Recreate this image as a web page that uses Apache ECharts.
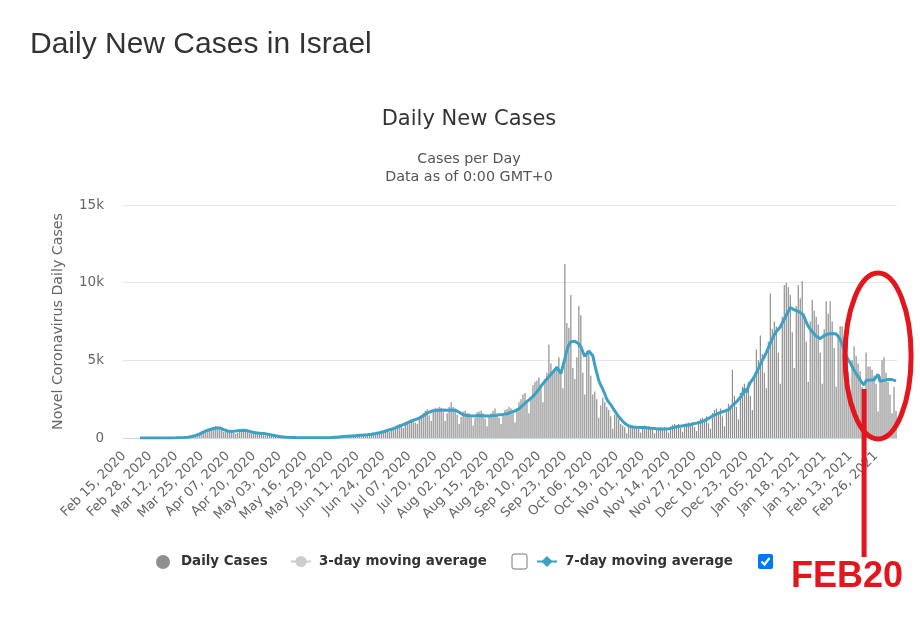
<!DOCTYPE html>
<html><head><meta charset="utf-8">
<script src="https://cdn.jsdelivr.net/npm/echarts@6/dist/echarts.min.js"></script>
<style>html,body{margin:0;padding:0;background:#fff;}#chart{width:920px;height:626px;}</style>
</head><body><div id="chart"></div>
<script>
// ---- data ----
const monthNames = ['Jan','Feb','Mar','Apr','May','Jun','Jul','Aug','Sep','Oct','Nov','Dec'];
const firstDay = [2020, 1, 15]; // Feb 15, 2020
const dayCount = 388;            // through Mar 08, 2021
const categories = [];
for (let i = 0; i < dayCount; i++) {
  const d = new Date(Date.UTC(firstDay[0], firstDay[1], firstDay[2] + i));
  categories.push(monthNames[d.getUTCMonth()] + ' ' + String(d.getUTCDate()).padStart(2, '0') + ', ' + d.getUTCFullYear());
}

const dailyCases = [
  0,0,0,0,0,0,1,
  0,0,1,0,0,2,1,
  0,3,2,0,3,4,2,
  4,9,3,17,12,14,18,
  17,43,50,39,97,102,144,
  110,200,230,300,420,450,520,
  430,590,560,640,760,700,600,
  520,410,430,520,470,450,330,
  250,330,560,490,550,540,430,
  300,290,400,330,280,300,240,
  170,180,270,240,140,110,100,
  60,90,110,60,50,40,30,
  20,25,30,20,18,15,14,
  10,16,18,15,14,12,16,
  8,14,20,22,25,40,45,
  30,60,75,95,110,115,90,
  70,120,160,150,170,180,140,
  120,190,240,250,270,280,220,
  200,330,380,400,450,520,440,
  400,600,690,760,850,900,720,
  650,1000,1080,1140,1200,1250,1000,
  900,1350,1480,1600,1750,1850,1450,
  1100,1750,1950,1900,2000,1950,1650,
  1100,1600,2000,2300,2000,1900,1500,
  900,1350,1700,1750,1600,1600,1300,
  800,1300,1650,1700,1750,1600,1250,
  750,1400,1600,1750,1900,1500,1300,
  900,1500,1800,1850,2000,1900,1600,
  1000,1900,2300,2500,2800,2900,2300,
  1600,2600,3400,3600,3700,3900,3300,
  2300,3800,4200,6000,4800,4300,4500,
  4600,5200,4400,3200,11200,7400,7100,
  9200,4500,3800,5200,8500,7900,4200,
  2800,5600,5400,4000,2800,3000,2500,
  1300,2100,2600,2300,2000,1800,1400,
  600,1500,1400,1200,900,800,700,
  300,750,850,800,700,750,600,
  350,700,800,750,750,700,550,
  300,650,700,700,650,700,500,
  350,750,850,900,800,900,650,
  400,900,950,1000,950,1000,700,
  450,1050,1250,1300,1200,1400,950,
  600,1600,1800,1900,1700,1900,1400,
  750,1900,2200,2100,4400,2700,2000,
  1200,2900,3300,3500,3200,3600,2700,
  1800,4000,5700,5000,6600,5400,4200,
  3200,6200,9300,7000,7500,7200,5500,
  3500,7800,9850,10000,9700,9200,6800,
  4500,8500,9850,9000,10100,8000,6200,
  3600,7500,8900,8200,7800,7300,5500,
  3500,7000,8800,8000,8800,7500,5800,
  3300,6500,7200,7200,6500,5500,4300,
  2500,5000,5900,5300,4800,4300,3300,
  1900,5500,4600,4600,4400,4000,3500,
  1700,4000,5000,5200,4200,3600,2800,
  1600,3300,1760
];

const movingAvg7 = [
  null,null,null,null,null,null,null,
  null,0,0,0,0,1,1,
  1,1,1,2,2,2,3,
  3,4,5,6,8,10,13,
  17,22,30,38,50,70,95,
  130,170,210,260,320,390,450,
  500,540,580,620,640,660,650,
  600,540,480,450,430,420,430,
  450,470,490,500,500,480,460,
  420,390,360,340,320,310,300,
  290,270,250,220,190,160,140,
  120,100,85,70,55,45,38,
  32,28,25,22,20,18,17,
  16,15,15,14,14,14,15,
  15,16,17,18,20,24,30,
  40,50,60,70,80,90,100,
  110,120,130,140,150,160,170,
  180,190,200,215,230,245,260,
  290,315,340,370,400,440,480,
  520,560,600,650,700,750,800,
  860,920,980,1030,1080,1130,1180,
  1220,1280,1350,1430,1520,1610,1690,
  1720,1750,1770,1780,1790,1800,1810,
  1800,1790,1780,1800,1820,1790,1740,
  1660,1570,1500,1470,1450,1430,1420,
  1420,1430,1440,1450,1450,1440,1430,
  1420,1420,1430,1440,1450,1470,1490,
  1510,1520,1530,1560,1600,1650,1700,
  1750,1800,1880,1990,2110,2240,2360,
  2460,2560,2680,2820,2980,3150,3330,
  3500,3650,3800,3950,4100,4250,4400,
  4550,4620,4150,4250,5100,5650,6000,
  6200,6180,6230,6200,6050,5880,5550,
  5250,5150,5600,5700,5300,4700,4200,
  3700,3400,3150,2850,2500,2300,2150,
  1950,1750,1550,1380,1220,1080,950,
  850,780,740,710,700,690,690,
  680,680,670,660,650,640,620,
  610,600,590,585,580,580,585,
  590,610,650,690,720,740,760,
  780,800,815,830,860,900,930,
  960,990,1030,1070,1120,1180,1260,
  1340,1420,1480,1540,1590,1640,1690,
  1730,1770,1810,1850,2100,2200,2320,
  2480,2620,2800,3150,2950,3300,3580,
  3750,3950,4200,4450,4750,5000,5250,
  5500,5800,6100,6400,6650,6850,7000,
  7150,7400,7650,7900,8150,8400,8350,
  8250,8200,8150,8050,8000,7800,7450,
  7200,7000,6850,6700,6550,6450,6400,
  6500,6600,6650,6700,6720,6730,6740,
  6700,6550,6350,6050,5650,5300,5050,
  4850,4600,4350,4150,3950,3750,3550,
  3420,3700,3740,3730,3720,3740,3800,
  4100,3650,3700,3710,3730,3760,3790,
  3760,3720,3680
];

const movingAvg3 = []; // hidden series (shown in legend only)
const yTickValues = [0, 5000, 10000, 15000];
const yTickLabels = ['0', '5k', '10k', '15k'];
const markedDay = 'Feb 20, 2021';
const markText = 'FEB20';

// ---- chart ----
const chart = echarts.init(document.getElementById('chart'));
const RED = '#e3161d';
const FONT = 'DejaVu Sans';
const legendText = {fontFamily: FONT, fontWeight: 'bold', fontSize: 13.4, color: '#333', padding: [0, 0, 0, 3]};

chart.setOption({
  animation: false,
  title: [
    {text: 'Daily New Cases in Israel', left: 25, top: 25,
     textStyle: {fontFamily: 'Liberation Sans', fontSize: 30, fontWeight: 'normal', color: '#333'}},
    {text: 'Daily New Cases', left: 464, top: 104, textAlign: 'center',
     textStyle: {fontFamily: FONT, fontSize: 21, fontWeight: 'normal', color: '#333'}},
    {text: 'Cases per Day\nData as of 0:00 GMT+0', left: 464, top: 145, textAlign: 'center',
     textStyle: {fontFamily: FONT, fontSize: 14.3, lineHeight: 18, fontWeight: 'normal', color: '#555'}}
  ],
  grid: {left: 123, right: 23, top: 205, bottom: 188},
  xAxis: {
    type: 'category', data: categories, boundaryGap: true,
    axisLine: {lineStyle: {color: '#ccd6eb'}},
    axisTick: {show: false},
    axisLabel: {interval: 12, rotate: 45, color: '#666', fontSize: 13.1, fontFamily: FONT, margin: 16}
  },
  yAxis: {
    type: 'value', min: yTickValues[0], max: yTickValues[yTickValues.length - 1],
    interval: yTickValues[1] - yTickValues[0],
    name: 'Novel Coronavirus Daily Cases', nameLocation: 'middle', nameGap: 58,
    nameTextStyle: {fontFamily: FONT, fontSize: 14.2, color: '#666'},
    axisLine: {show: false}, axisTick: {show: false},
    axisLabel: {color: '#666', fontSize: 13.5, fontFamily: FONT, margin: 19,
      formatter: v => yTickLabels[yTickValues.indexOf(v)]},
    splitLine: {lineStyle: {color: '#e6e6e6'}}
  },
  legend: [
    {data: ['Daily Cases'], left: 156, top: 555, padding: 0, itemWidth: 20, itemHeight: 14, icon: 'circle', textStyle: legendText,
     selected: {'3-day moving average': false}},
    {data: ['3-day moving average'], left: 290, top: 555, padding: 0, itemWidth: 20, itemHeight: 14, textStyle: legendText,
     inactiveColor: '#ccc', inactiveBorderColor: '#ccc',
     lineStyle: {color: '#ccc', width: 2, inactiveColor: '#ccc', inactiveWidth: 2}},
    {data: ['7-day moving average'], left: 536, top: 555, padding: 0, itemWidth: 20, itemHeight: 14, textStyle: legendText}
  ],
  series: [
    {name: 'Daily Cases', type: 'bar', data: dailyCases, barWidth: '60%', itemStyle: {color: '#8f8f8f'}},
    {name: '3-day moving average', type: 'line', data: movingAvg3, symbol: 'circle', symbolSize: 8,
     itemStyle: {color: '#ccc'}, lineStyle: {color: '#ccc', width: 2}},
    {name: '7-day moving average', type: 'line', data: movingAvg7, showSymbol: false, symbol: 'diamond', symbolSize: 9,
     lineStyle: {width: 3, color: '#3ca1c5'}, itemStyle: {color: '#3ca1c5'}, z: 5}
  ]
});

const mx = chart.convertToPixel({xAxisIndex: 0}, markedDay);
chart.setOption({
  graphic: [
    {type: 'rect', shape: {x: 512, y: 554, width: 15, height: 15, r: 2}, style: {fill: '#fff', stroke: '#767676', lineWidth: 1}},
    {type: 'rect', shape: {x: 758, y: 554, width: 15, height: 15, r: 2}, style: {fill: '#0075ff'}},
    {type: 'polyline', shape: {points: [[761.5, 561.5], [764.5, 564.5], [769.5, 558]]}, style: {stroke: '#fff', lineWidth: 2.2, fill: null}},
    {type: 'ellipse', shape: {cx: mx + 14, cy: 356, rx: 33, ry: 83}, style: {fill: null, stroke: RED, lineWidth: 5}, z: 10},
    {type: 'line', shape: {x1: mx, y1: 389, x2: mx, y2: 557}, style: {stroke: RED, lineWidth: 5}, z: 10},
    {type: 'text', left: 791, top: 559, style: {text: markText, fill: RED, font: 'bold 36px "Liberation Sans", Arial'}, z: 10}
  ]
});
</script></body></html>
